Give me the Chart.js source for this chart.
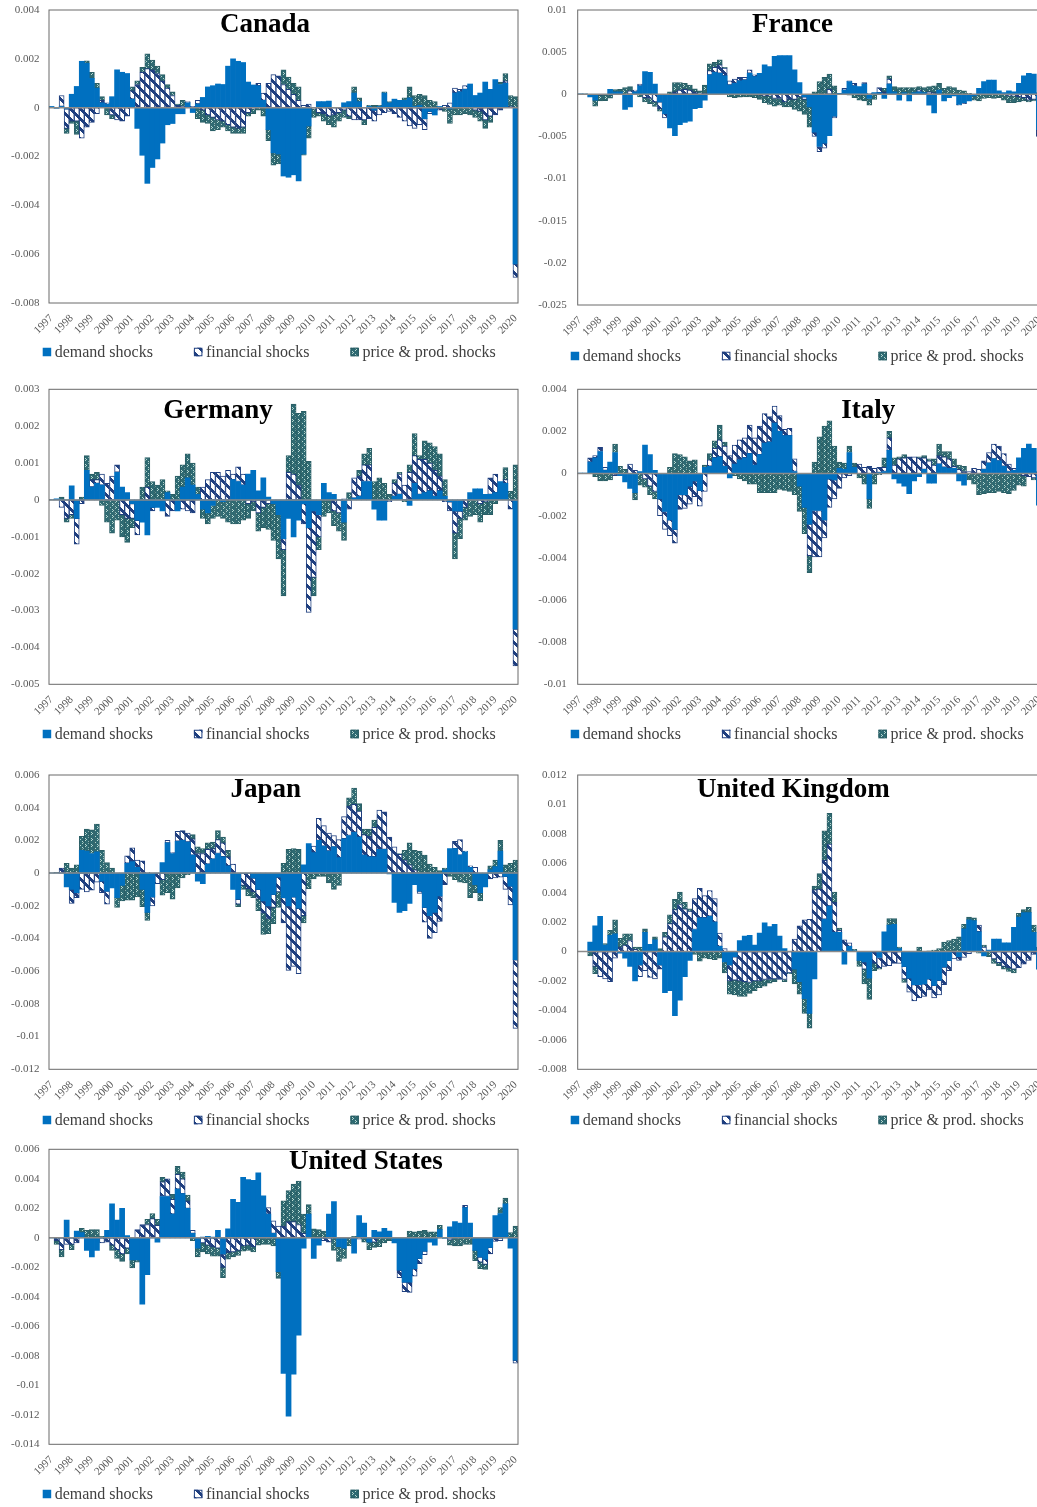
<!DOCTYPE html>
<html>
<head>
<meta charset="utf-8">
<script src="https://cdn.jsdelivr.net/npm/chart.js@4.4.1/dist/chart.umd.min.js"></script>
<style>
html,body{margin:0;padding:0;background:#fff;}
#wrap{position:relative;width:1037px;height:1507px;overflow:hidden;background:#fff;}
#wrap canvas{position:absolute;}
</style>
</head>
<body>
<div id="wrap"></div>
<script>
// ---------------- DATA (values in units of 0.001) ----------------
const yearLabels = ['1997','1998','1999','2000','2001','2002','2003','2004','2005','2006','2007','2008','2009','2010','2011','2012','2013','2014','2015','2016','2017','2018','2019','2020'];
const quarterCount = 93; // 1997Q1 .. 2020Q1
const seriesNames = ['demand shocks', 'financial shocks', 'price & prod. shocks'];
const VALUE_UNIT = 0.001;

const canadaDemand = [0.05,-0.03,0.05,-0.05,0.55,0.87,1.9,1.82,1.2,0.8, 0.2,0.15,0.45,1.55,1.45,1.4,0.35,-0.85,-1.95,-3.1, -2.45,-2.1,-1.45,-0.7,-0.65,-0.25,-0.25,0.2,-0.2,0.15, 0.42,0.85,0.9,0.97,0.95,1.7,2.0,1.9,1.85,1.05, 0.93,0.9,0.3,-0.9,-1.85,-1.9,-2.8,-2.85,-2.75,-3.0, -1.9,-0.75,0,0.25,0.25,0.27,0,0,0.2,0.25, 0.6,0.25,0,0.05,-0.1,0.05,0.6,0.2,0.35,0.3, 0.3,0.4,0.05,0.1,-0.45,-0.15,-0.3,0.05,0,-0.05, 0.6,0.65,0.75,0.97,0.5,0.6,1.05,0.75,1.15,0.95, 1.0,0,-6.4];
const canadaFinancial = [0,0,0.45,-0.8,-0.55,-0.55,-1.25,-0.8,-0.6,-0.25, 0.1,0.05,-0.3,-0.5,-0.55,-0.35,0.35,0.95,1.45,1.6, 1.55,1.4,1.1,0.8,0.5,0.1,0.05,0.05,0.05,0.15, -0.1,-0.3,-0.4,-0.5,-0.55,-0.7,-0.8,-0.85,-0.8,-0.2, -0.05,0.1,0.3,1.0,1.35,1.3,0.95,0.75,0.55,0.3, 0.1,0.15,-0.05,-0.2,-0.25,-0.35,-0.3,-0.2,-0.1,-0.35, -0.5,-0.5,-0.5,-0.45,-0.45,-0.3,-0.2,-0.15,-0.25,-0.4, -0.55,-0.75,-0.85,-0.7,-0.45,-0.1,0,-0.1,0.1,0.2, 0.2,0.1,0.15,0,-0.1,-0.15,-0.5,-0.35,-0.3,-0.1, 0.1,0.05,-0.55];
const canadaPrice = [0,0,0,-0.2,-0.1,-0.55,0,0.1,0.25,0.2, 0.15,-0.3,-0.15,0,0,0,0.15,0.15,0.2,0.6, 0.4,0.3,0.25,0.15,0.15,0.05,0.25,0,0,-0.45, -0.5,-0.35,-0.55,-0.4,-0.25,-0.25,-0.25,-0.2,-0.25,-0.15, -0.2,-0.1,-0.35,-0.45,-0.5,-0.4,0.6,0.5,0.45,0.55, -0.05,-0.5,-0.35,-0.15,-0.3,-0.35,-0.5,-0.35,-0.3,-0.1, 0.25,0.15,-0.2,0.05,0.1,0.05,0.05,0.05,0,0, 0.1,0.45,0.45,0.45,0.5,0.3,0.25,0,-0.15,-0.6, -0.3,-0.3,-0.25,-0.3,-0.3,-0.4,-0.35,-0.25,0,0.1, 0.3,0.45,0.45];

const franceDemand = [0.05,0.02,-0.3,-0.7,0,-0.05,0.6,0.3,0.3,-1.8, -1.5,0.3,1.0,2.7,2.6,1.2,-0.9,-2.3,-4.0,-4.9, -3.6,-3.35,-3.2,-1.7,-1.6,-0.7,2.3,2.6,2.5,2.2, 1.1,1.3,1.6,1.7,2.5,2.1,2.5,3.5,3.3,4.5, 4.6,4.6,4.6,2.9,1.4,-0.3,-1.5,-4.5,-6.2,-5.8, -4.9,-2.6,0.1,0.5,1.5,1.0,0.9,1.2,-0.5,0.2, 0.2,-0.5,1.2,0.3,-0.7,0.2,-0.8,0.2,0.3,0.2, -1.3,-2.2,0.5,-0.8,-0.4,-0.2,-1.2,-1.0,-0.8,-0.2, 0.7,1.5,1.7,1.7,0.4,0.2,0.4,0.3,1.3,2.2, 2.5,2.4,-4.2];
const franceFinancial = [0,0,0,0,-0.1,0,-0.1,0,0,0, 0.4,0.2,0.2,-0.4,-0.5,-0.9,-0.8,-0.5,0,0.3, 0.5,0.6,0.5,0.3,0.1,0.1,0.5,0.6,1.0,0.9, 0.5,0.5,0.4,0.3,0.4,0.2,-0.1,-0.2,-0.2,-0.5, -0.5,-0.9,-0.6,-0.6,-0.3,-0.3,0,-0.5,-0.6,-0.6, 0.6,-0.2,0,0.2,0.1,0.3,-0.1,0.2,0.1,0, 0.6,0.3,0.6,0,0,0,0,0,0.2,0, 0.3,0.2,0,0,0,0,-0.1,-0.1,0,0, 0,0,0,0,0,0,-0.2,-0.2,-0.3,-0.4, -0.7,-0.6,-0.8];
const francePrice = [0,0.02,0,-0.7,-0.7,-0.7,-0.35,0.25,0.3,0.8, 0.5,0,-0.3,-0.5,-0.6,-0.55,-0.3,0,0.3,1.1, 0.9,0.7,0.6,0.35,0.3,1.0,0.8,0.6,0.6,0.1, -0.3,-0.4,-0.35,-0.3,-0.3,-0.4,-0.5,-0.8,-1.0,-0.9, -0.8,-0.6,-0.9,-1.2,-1.7,-1.8,-2.4,0.3,1.5,2.0, 1.8,1.0,0,0,-0.1,-0.4,-0.6,-0.8,-0.8,-0.6, 0,0.4,0.4,0.6,0.8,0.6,0.8,0.6,0.4,0.6, 0.6,0.8,0.8,0.7,0.9,0.8,0.5,0.4,0.1,-0.5, -0.8,-0.5,-0.4,-0.5,-0.4,-0.7,-0.8,-0.8,-0.6,-0.4, -0.2,-0.2,0.2];

const germanyDemand = [0,0.03,0,0,0.38,-0.5,0,0.8,0.35,0.45, 0.4,0,0,0.75,0.35,0.2,-0.1,-0.55,-0.6,-0.95, -0.2,-0.2,-0.3,0.2,0,-0.3,0.35,0.6,0.4,0.15, -0.25,-0.35,-0.15,0,-0.05,0,0.55,0.5,0.4,0.7, 0.8,0.25,0.6,0.08,-0.1,-0.4,-1.05,-0.5,-1.0,-0.55, -0.1,-0.75,-0.3,-0.4,0.45,0.2,0.15,0,-0.6,0, 0.05,0.1,0.5,0.5,-0.25,-0.55,-0.55,0,0.1,0.15, 0,-0.15,0.45,0.15,0.2,0.25,0.1,0.25,0.1,-0.05, -0.3,-0.3,0,0.2,0.3,0.3,0.15,0.15,0.2,0.5, 0.45,0,-3.5];
const germanyFinancial = [0,0,-0.2,-0.5,-0.4,-0.7,-0.1,0,0.2,0.1, 0.3,0.45,0.65,0.2,-0.4,-0.5,-0.4,-0.4,0,0.35, -0.1,0,0,-0.45,-0.3,0,-0.25,-0.3,-0.35,0, 0.35,0.55,0.75,0.75,0.65,0.8,0.15,0.4,0.3,-0.1, -0.05,-0.35,-0.2,-0.1,0,0,-0.3,0.75,0.7,0.4, -0.55,-2.3,-1.8,-0.6,0,0,-0.3,-0.35,0.03,-0.25, 0.55,0.55,0.45,0.45,0,0,0,-0.05,0.35,0.55, 0.4,0.75,0.75,0.95,0.9,0.75,0.7,0.4,-0.05,-0.25, -0.6,-0.2,-0.2,0,0,-0.1,-0.05,0.45,0.5,0, 0.1,-0.25,-1.0];
const germanyPrice = [0.01,0,0.08,-0.1,-0.1,0,0.08,0.4,0.15,0.2, -0.15,-0.6,-0.9,-0.55,-0.6,-0.65,-0.25,0,0.35,0.8, 0.5,0.4,0.55,0.05,0.15,0.65,0.6,0.65,0.6,0.2, -0.25,-0.3,-0.35,-0.45,-0.45,-0.6,-0.65,-0.65,-0.55,-0.4, -0.25,-0.5,-0.55,-0.7,-1.0,-1.2,-1.25,0.45,1.9,1.95, 2.4,1.05,-0.5,-0.35,-0.45,-0.35,-0.4,-0.5,-0.5,0.2, 0,0.15,0.3,0.45,0.5,0.6,0.45,0.15,0.1,0.05, -0.05,0.2,0.6,0.1,0.5,0.55,0.65,0.6,0.45,0, -0.7,-0.55,-0.35,-0.45,-0.4,-0.5,-0.35,-0.4,-0.1,0, 0.33,0.23,0.95];

const italyDemand = [0.02,0.02,0.55,0.75,1.05,0.15,0.55,1.0,-0.1,-0.4, -0.7,-0.9,0.1,1.35,0.9,0.15,-1.2,-1.8,-2.2,-2.65, -1.0,-1.0,-0.6,-0.35,-0.8,0.3,0.35,0.75,0.8,0.35, -0.2,0.45,0.65,0.75,0.95,0.4,0.9,1.45,1.5,2.4, 2.0,1.8,1.8,0.1,-0.6,-1.6,-2.4,-1.75,-1.75,-2.2, -0.25,-0.3,0.25,0.2,1.0,0.3,0,0,-1.2,0, 0.05,0.1,1.1,-0.25,-0.45,-0.6,-0.95,-0.35,-0.15,0.2, -0.45,-0.45,0.45,0.3,0.25,0.25,-0.35,-0.55,0,0, 0,0.2,0.5,0.7,0.6,0.35,0.1,0.15,0.75,1.2, 1.4,1.2,-1.5];
const italyFinancial = [0,0,0.2,0.1,0.2,0.15,0,-0.1,0,0, 0.45,0.15,0,-0.25,-0.6,-0.85,-0.8,-0.85,-0.75,-0.65, -0.7,-0.65,-0.85,-0.75,-0.75,-0.85,0.3,0.45,0.8,0.95, 0.85,0.9,0.95,0.95,1.35,1.3,1.35,1.4,1.2,0.8, 0.75,0.3,0.35,0.6,0,0,-1.5,-2.2,-2.2,-0.85, -1.35,-0.9,-0.7,-0.2,-0.1,0,0.45,0.3,0.35,0.25, 0.25,0.2,0.6,0.4,0.7,0.75,0.8,0.8,0.75,0.55, 0.6,0.4,0.4,0.5,0.45,0.1,0.2,0.1,0.1,0.25, 0.2,0.4,0.5,0.7,0.7,0.6,0.35,0.1,0,-0.1, -0.15,-0.2,0];
const italyPrice = [0,0,0,-0.15,-0.35,-0.35,-0.3,0.4,0.35,0.2, 0,-0.35,-0.55,-0.4,-0.4,-0.35,0,0,0.3,0.95, 0.9,0.8,0.6,0.65,0,0.1,0.3,0.35,0.7,0.2, 0,-0.1,-0.25,-0.35,-0.5,-0.5,-0.9,-0.9,-0.9,-0.9, -0.75,-0.8,-0.85,-1.0,-1.2,-1.25,-0.8,0.55,1.75,2.25, 2.5,1.3,0.3,0.3,0.3,0.2,-0.2,-0.5,-0.45,-0.5, -0.05,0.45,0.3,0.35,0.1,0.15,0,0,0.05,0.1, 0.1,0.3,0.55,0.25,0.35,0.35,0.2,0.25,-0.3,-0.5, -1.0,-0.95,-0.9,-0.9,-0.85,-0.9,-0.95,-0.8,-0.55,-0.5, 0,-0.1,0.1];

const japanDemand = [0.02,0.02,0,-0.85,-1.0,-1.2,1.4,1.35,1.2,1.3, -0.5,-1.1,-0.9,-1.5,-0.75,0.6,0.7,0.35,-1.0,-2.4, -1.45,0,0.65,1.85,1.2,1.95,2.0,1.9,1.1,-0.5, -0.65,0.55,0.85,1.2,1.0,0.45,-1.0,-1.6,0,0, -0.3,-1.0,-1.7,-2.0,-1.3,-0.25,-1.5,-2.0,-1.45,-2.15, 0.5,1.8,1.25,2.0,1.65,1.35,1.6,0.95,2.1,2.3, 2.5,2.2,1.1,1.0,1.0,1.45,1.45,-0.05,-1.8,-2.4, -2.3,-1.85,-0.7,-1.1,-2.1,-2.6,-2.4,-1.4,0.2,1.5, 1.5,1.1,1.3,0.35,-0.7,-1.2,-0.85,0.2,0.4,1.35, -0.2,-0.8,-5.3];
const japanFinancial = [0,0,0.3,0.05,-0.85,-0.3,-1.0,-1.15,-1.05,-0.55, -0.7,-0.8,0,0,0,0.45,0.85,0.45,0.75,0.05, -0.55,-0.65,-0.4,0.15,0.05,0.6,0.6,0.55,1.0,1.2, 1.2,0.9,0.65,0.85,0.85,0.55,0.55,-0.3,-0.75,-0.95, -0.85,-0.6,-0.75,-0.8,-0.8,-0.9,-1.55,-3.95,-4.25,-4.0, -2.6,0,0.4,1.35,1.25,1.1,0.7,1.1,1.35,1.8, 1.7,1.6,1.25,1.25,1.8,2.4,2.3,2.2,1.6,1.15, 0.8,0.5,0.2,-0.15,-0.9,-1.4,-1.25,-1.55,-0.7,0, 0.45,0.95,0.05,0.1,0.35,0,0,-0.35,-0.3,-0.25, -0.8,-1.15,-4.2];
const japanPrice = [0,0.03,0,0.55,0.3,0.5,0.85,1.35,1.45,1.7, 1.4,0.65,0.3,-0.6,-0.95,-1.65,-1.65,-1.45,-1.05,-0.5, 0,0,-0.95,-1.2,-1.6,-0.9,-0.3,-0.1,0.25,0.4, 0.3,0.4,0.4,0.55,0.35,0.4,0,-0.15,-0.25,-0.45, -0.35,-0.7,-1.3,-0.9,-1.0,-0.95,0.6,1.45,1.5,1.45, -0.45,-0.95,-0.35,-0.2,-0.2,-0.6,-1.0,-0.75,0,0.5, 1.0,0.45,0.35,0.45,0.45,0,0,0,0,0.05, 0.6,1.35,1.2,1.35,1.1,0.55,0.35,0.15,0.1,-0.2, -0.4,-0.55,-0.6,-1.5,-0.5,-0.5,0,0.25,0.4,0.65, 0.5,0.6,0.8];

const ukDemand = [0,0.02,0.65,1.75,2.4,0.45,1.1,1.2,-0.1,-0.45, -1.0,-2.0,-0.9,1.3,0.5,0.8,-0.9,-2.8,-2.65,-4.35, -3.3,-1.7,-0.6,1.5,2.3,2.3,2.4,2.0,0.35,-0.7, -0.9,-0.35,0.75,1.05,1.1,0.45,1.25,1.95,1.7,1.85, 1.05,0.2,0,-1.2,-2.05,-3.2,-4.2,-1.85,0,2.2, 3.1,1.3,1.3,-0.85,0.35,0.05,-0.6,-0.7,-1.8,0, -0.4,1.35,1.8,1.85,0.2,-1.0,-1.8,-2.25,-2.25,-2.2, -1.85,-2.3,-1.95,-1.05,-0.6,0,-0.35,1.55,2.15,2.1, 1.35,-0.3,0.1,0.85,0.85,0.6,0.6,1.65,2.35,2.65, 2.65,1.3,-1.2];
const ukFinancial = [0,0,0,-1.0,-1.7,-1.85,-2.05,-0.45,0.3,0.45, 0.75,0.15,-0.8,-1.3,-1.75,-1.85,-0.3,1.0,1.9,2.85, 3.2,2.9,2.75,2.1,2.0,1.5,1.75,1.6,0.9,0.2, -1.1,-1.6,-2.0,-2.05,-2.1,-2.0,-2.0,-1.9,-1.9,-1.85, -1.9,-1.9,-1.45,0.85,1.75,2.15,2.2,4.2,4.25,4.0, 4.2,2.05,0.15,0.8,0.25,0,0,-0.5,0,-0.8, -0.7,-1.0,-0.95,-0.8,-0.8,-0.85,-0.95,-1.1,-0.9,-0.85, -0.75,-0.85,-1.0,-1.2,-0.7,-0.5,-0.25,-0.4,-0.15,0, 0.45,0.3,0,-0.5,-0.75,-1.0,-1.1,-1.2,-1.1,-0.85, -0.6,-0.2,0];
const ukPrice = [0,0,-0.3,-0.5,0,0.1,0.35,0.95,0.6,0.75, 0.45,0.15,0.3,0.25,0,0.2,0.2,0.3,0.6,0.7, 0.85,0.45,0.15,-0.2,-0.65,-0.45,-0.5,-0.55,-0.45,-0.75, -0.9,-1.0,-1.05,-1.0,-0.75,-0.65,-0.45,-0.45,-0.25,-0.2, 0,-0.15,-0.05,-1.0,-0.85,-1.0,-1.0,0.25,1.05,2.0, 2.1,0.7,0.15,0,0,0.1,-0.4,-1.0,-1.45,-0.5, -0.1,0,0.45,0.4,0.1,-0.25,0,0,0.3,0, 0.05,0.1,0.2,0.65,0.75,0.85,1.0,0.3,0.2,0.2, -0.1,0.15,-0.35,-0.3,-0.2,-0.2,-0.25,-0.25,0.25,0.2, 0.35,0.5,0.3];

const usDemand = [0.03,0,0,1.2,0,0.45,0.35,-0.85,-1.3,-0.85, 0,0.5,2.3,1.2,2.0,0.15,-1.5,-1.5,-4.5,-2.5, 0,-0.3,2.8,2.8,1.6,3.3,3.0,2.0,0.3,-0.7, 0.05,0.1,0.05,0.5,-1.1,0.6,2.6,2.4,4.1,3.95, 3.9,4.4,2.85,1.6,0.3,-2.3,-9.2,-12.1,-9.25,-6.6, -0.7,1.6,-1.4,-0.5,0,1.6,2.45,-0.6,-0.7,0, -1.05,1.5,1.0,-0.3,0.5,0.4,0.65,0.45,-0.35,-2.2, -3.0,-3.0,-2.1,-1.4,-0.9,-0.3,-0.5,0.55,-0.05,0.75, 1.1,1.0,2.05,1.0,-0.85,-1.3,-1.45,-0.65,1.5,1.65, 2.3,-0.7,-8.3];
const usFinancial = [0,-0.2,-0.8,-0.45,-0.45,-0.35,0,0,0,0, -0.35,-0.3,-0.5,-0.8,-1.1,-0.7,0,0.55,0.9,0.9, 1.3,0.85,1.0,1.2,1.0,1.0,1.0,0.5,0.2,0, -0.35,-0.5,-0.6,-0.7,-0.9,-1.0,-0.95,-0.85,-0.55,-0.5, -0.6,0,0,0.45,0.85,0.8,0.8,1.1,1.1,0.9, 0.3,0,0,0,-0.2,-0.3,0,0,0,0, 0,-0.1,0,0,-0.3,0,0,0,0,-0.5, -0.65,-0.7,-0.5,-0.35,-0.25,0,0,0,0,-0.15, 0,0,0.15,0,0,-0.35,-0.35,-0.45,-0.25,-0.2, 0,0,-0.2];
const usPrice = [0,-0.25,-0.5,0,-0.35,0,0.3,0.5,0.55,0.55, 0.1,0,-0.35,-0.6,-0.5,-0.4,-0.55,-0.15,0,0.35, 0.35,0.4,0.3,0,0.35,0.55,0.45,0.4,-0.2,-0.6, -0.6,-0.6,-0.65,-0.55,-0.7,-0.45,-0.35,-0.35,-0.35,-0.35, -0.35,-0.5,-0.45,-0.45,-0.55,-0.45,1.7,2.1,2.55,2.95, 1.3,0.65,0.6,0.55,0.45,0,-0.85,-1.0,-0.7,-0.55, 0.1,0,-0.3,-0.5,-0.35,-0.6,-0.35,-0.2,0,0, 0,0.45,0.4,0.45,0.5,0.4,0.4,0.3,0,-0.35, -0.55,-0.55,-0.45,-0.45,-0.7,-0.45,-0.35,0,0,0.4, 0.4,0.35,0.8];

// ---------------- STYLE ----------------
const FONT = '"Liberation Serif", "DejaVu Serif", serif';
const DEMAND_COLOR = '#0070C0';
const FIN_COLOR = '#1F3F7F';
const PRICE_COLOR = '#2E6A72';
const PRICE_LIGHT = '#B9D8D1';
const PRICE_BORDER = '#2A5E65';

const categories = [];
for (let i = 0; i < quarterCount; i++) {
  categories.push(yearLabels[Math.floor(i / 4)] + 'Q' + (i % 4 + 1));
}

function finPattern(ctx) {
  const c = document.createElement('canvas');
  c.width = 10; c.height = 10;
  const g = c.getContext('2d');
  g.fillStyle = '#ffffff'; g.fillRect(0, 0, 10, 10);
  g.fillStyle = FIN_COLOR;
  for (let y = 0; y < 10; y++) for (let x = 0; x < 10; x++) {
    if ((((x - y) % 10) + 10) % 10 < 4) g.fillRect(x, y, 1, 1);
  }
  return ctx.createPattern(c, 'repeat');
}
function pricePattern(ctx) {
  const c = document.createElement('canvas');
  c.width = 6; c.height = 6;
  const g = c.getContext('2d');
  g.fillStyle = PRICE_COLOR; g.fillRect(0, 0, 6, 6);
  g.fillStyle = PRICE_LIGHT;
  [[1,0],[2,1],[1,2],[4,3],[5,4],[4,5]].forEach(p => g.fillRect(p[0], p[1], 1, 1));
  return ctx.createPattern(c, 'repeat');
}

const decor = {
  id: 'decor',
  afterDatasetsDraw(chart, args, o) {
    const ctx = chart.ctx, a = chart.chartArea, y = chart.scales.y;
    ctx.save();
    const y0 = y.getPixelForValue(0);
    ctx.strokeStyle = '#8a8a8a'; ctx.lineWidth = 1.5;
    ctx.beginPath(); ctx.moveTo(a.left, y0); ctx.lineTo(a.right, y0); ctx.stroke();
    ctx.strokeStyle = '#6a6a6a'; ctx.lineWidth = 1;
    ctx.strokeRect(a.left, a.top, a.right - a.left, a.bottom - a.top);
    ctx.restore();
  },
  afterDraw(chart, args, o) {
    const ctx = chart.ctx;
    ctx.save();
    ctx.font = 'bold 27px ' + FONT;
    ctx.fillStyle = '#000';
    ctx.textAlign = 'center'; ctx.textBaseline = 'middle';
    ctx.fillText(o.text, o.titleX, o.titleY);
    ctx.font = '16px ' + FONT;
    ctx.textAlign = 'left';
    let x = o.legendX;
    const s = 8.5;
    chart.data.datasets.forEach(ds => {
      ctx.fillStyle = ds.backgroundColor;
      ctx.fillRect(x, o.legendY - s / 2, s, s);
      if (ds.borderWidth) {
        ctx.strokeStyle = ds.borderColor; ctx.lineWidth = 1;
        ctx.strokeRect(x + 0.5, o.legendY - s / 2 + 0.5, s - 1, s - 1);
      }
      ctx.fillStyle = '#404040';
      ctx.fillText(ds.label, x + 12, o.legendY + 1);
      x += 12 + ctx.measureText(ds.label).width + 41;
    });
    ctx.restore();
  }
};

const panels = [
  {name:'Canada', left:0, top:0, width:530, height:375, yW:49, padTop:10, padRight:12, plotH:293, yMin:-0.008, yMax:0.004, step:0.002, tPad:9.5, titleX:265, titleY:25, legendX:42.7, legendY:352, d:canadaDemand, f:canadaFinancial, p:canadaPrice},
  {name:'France', left:520, top:0, width:534, height:375, yW:57.7, padTop:10, padRight:12.7, plotH:295, yMin:-0.025, yMax:0.01, step:0.005, tPad:11, titleX:272.5, titleY:25, legendX:50.7, legendY:356, d:franceDemand, f:franceFinancial, p:francePrice},
  {name:'Germany', left:0, top:380, width:530, height:375, yW:49, padTop:9.3, padRight:12, plotH:295, yMin:-0.005, yMax:0.003, step:0.001, tPad:9.5, titleX:218, titleY:31, legendX:42.7, legendY:354, d:germanyDemand, f:germanyFinancial, p:germanyPrice},
  {name:'Italy', left:520, top:380, width:534, height:375, yW:57.7, padTop:9.3, padRight:12.7, plotH:295, yMin:-0.01, yMax:0.004, step:0.002, tPad:11, titleX:348.3, titleY:31, legendX:50.7, legendY:354, d:italyDemand, f:italyFinancial, p:italyPrice},
  {name:'Japan', left:0, top:760, width:530, height:375, yW:49, padTop:15, padRight:12, plotH:294.3, yMin:-0.012, yMax:0.006, step:0.002, tPad:9.5, titleX:265.8, titleY:30, legendX:42.7, legendY:360, d:japanDemand, f:japanFinancial, p:japanPrice},
  {name:'United Kingdom', left:520, top:760, width:534, height:375, yW:57.7, padTop:15, padRight:12.7, plotH:294.3, yMin:-0.008, yMax:0.012, step:0.002, tPad:11, titleX:273.3, titleY:30, legendX:50.7, legendY:360, d:ukDemand, f:ukFinancial, p:ukPrice},
  {name:'United States', left:0, top:1135, width:530, height:372, yW:49, padTop:14.3, padRight:12, plotH:295, yMin:-0.014, yMax:0.006, step:0.002, tPad:9.5, titleX:365.8, titleY:27.5, legendX:42.7, legendY:359, d:usDemand, f:usFinancial, p:usPrice}
];

Chart.defaults.font.family = FONT;
const wrap = document.getElementById('wrap');
const toUnits = arr => arr.map(v => v * VALUE_UNIT);

panels.forEach(P => {
  const cv = document.createElement('canvas');
  cv.width = P.width; cv.height = P.height;
  cv.style.left = P.left + 'px'; cv.style.top = P.top + 'px';
  cv.style.width = P.width + 'px'; cv.style.height = P.height + 'px';
  wrap.appendChild(cv);
  const ctx = cv.getContext('2d');
  const padBottom = 10;
  const xH = P.height - padBottom - P.padTop - P.plotH;
  new Chart(ctx, {
    type: 'bar',
    data: {
      labels: categories,
      datasets: [
        {label: seriesNames[0], data: toUnits(P.d), backgroundColor: DEMAND_COLOR, borderWidth: 0},
        {label: seriesNames[1], data: toUnits(P.f), backgroundColor: finPattern(ctx), borderColor: FIN_COLOR, borderWidth: 1, borderSkipped: false},
        {label: seriesNames[2], data: toUnits(P.p), backgroundColor: pricePattern(ctx), borderColor: PRICE_BORDER, borderWidth: 1, borderSkipped: false}
      ]
    },
    options: {
      responsive: false,
      animation: false,
      devicePixelRatio: 1,
      layout: {padding: {left: 0, top: P.padTop, right: P.padRight, bottom: padBottom}},
      datasets: {bar: {barPercentage: 1, categoryPercentage: 1}},
      plugins: {
        legend: {display: false},
        title: {display: false},
        tooltip: {enabled: false},
        decor: {text: P.name, titleX: P.titleX, titleY: P.titleY, legendX: P.legendX, legendY: P.legendY}
      },
      scales: {
        x: {
          stacked: true,
          grid: {display: false, drawTicks: false},
          border: {display: false},
          ticks: {
            autoSkip: false, minRotation: 45, maxRotation: 45, padding: 9,
            color: '#595959', font: {size: 11, family: FONT},
            callback: function(v, i) { return i % 4 === 0 ? yearLabels[i / 4] : ''; }
          },
          afterFit: s => { s.height = xH; s.paddingLeft = 0; s.paddingRight = 0; }
        },
        y: {
          stacked: true,
          min: P.yMin, max: P.yMax,
          grid: {display: false, drawTicks: false},
          border: {display: false},
          ticks: {
            stepSize: P.step, padding: P.tPad,
            color: '#595959', font: {size: 11, family: FONT},
            callback: v => String(Number(Number(v).toFixed(4)))
          },
          afterFit: s => { s.width = P.yW; s.paddingTop = 0; s.paddingBottom = 0; }
        }
      }
    },
    plugins: [decor]
  });
});
</script>
</body>
</html>
